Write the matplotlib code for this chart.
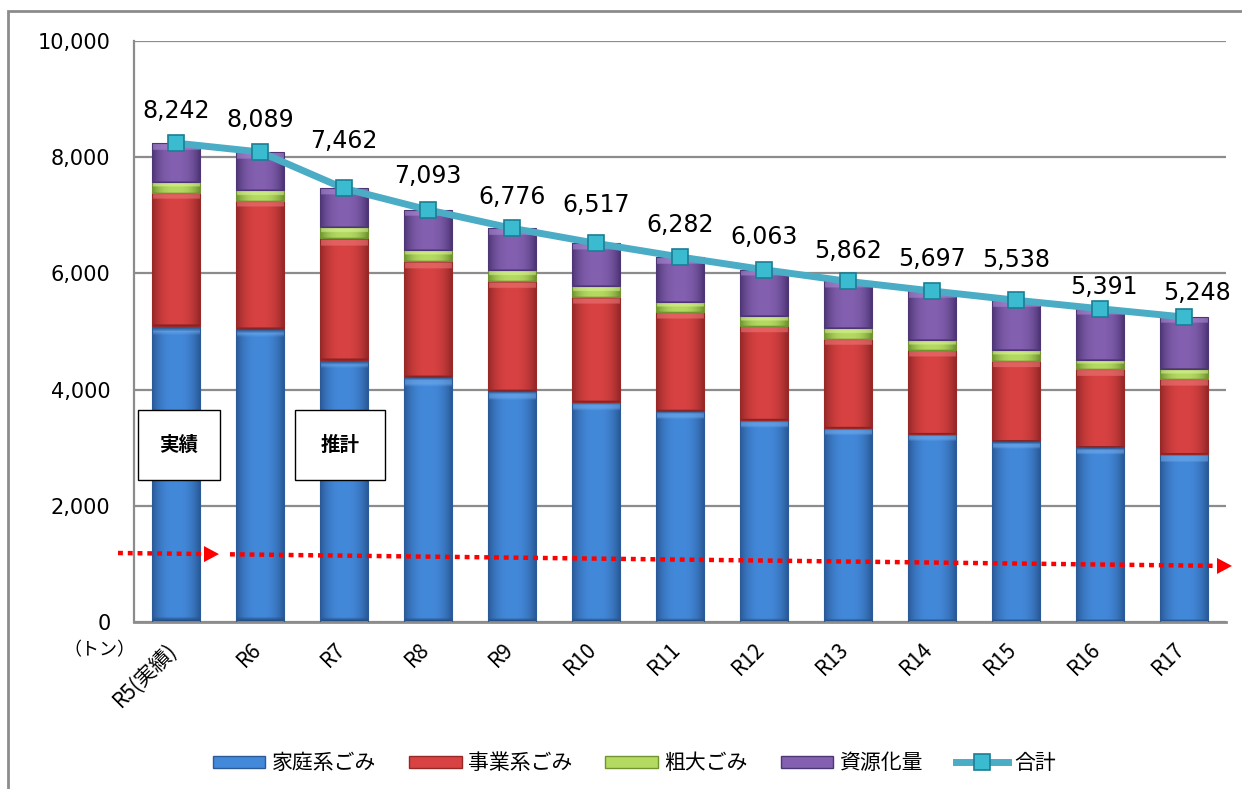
import numpy as np
import matplotlib
matplotlib.use("Agg")
import matplotlib.pyplot as plt
from matplotlib.patches import Patch, Rectangle, Polygon
from matplotlib.lines import Line2D
from matplotlib.colors import to_rgb
from matplotlib.transforms import ScaledTranslation

plt.rcParams['font.family'] = ['Noto Sans CJK JP', 'DejaVu Sans']

# データ（トン）
years = ['R5(実績)', 'R6', 'R7', 'R8', 'R9', 'R10', 'R11',
         'R12', 'R13', 'R14', 'R15', 'R16', 'R17']
katei = [5093, 5043, 4509, 4222, 3976, 3787, 3632, 3477, 3339, 3236, 3115, 3007, 2892]
jigyo = [2296, 2209, 2095, 1991, 1893, 1807, 1704, 1618, 1532, 1446, 1377, 1342, 1290]
sodai = [190, 183, 189, 190, 189, 189, 172, 172, 189, 172, 190, 160, 167]
goukei = [8242, 8089, 7462, 7093, 6776, 6517, 6282, 6063, 5862, 5697, 5538, 5391, 5248]
shigen = [t - a - b - c for t, a, b, c in zip(goukei, katei, jigyo, sodai)]

series_names = ['家庭系ごみ', '事業系ごみ', '粗大ごみ', '資源化量']
# (端の色, 中央の色, 上面ハイライト)
series_colors = [('#2A5A98', '#4389DA', '#74AEEE'),
                 ('#962828', '#D84242', '#EE7A7A'),
                 ('#6F9430', '#B5DA62', '#DDF59A'),
                 ('#4E3676', '#8460B0', '#B08ED8')]
line_color = '#4BACC6'

# ラベル位置の微調整（ピクセル）
label_dy = [32, 32, 47, 34, 31, 38, 32, 33, 30, 32, 40, 22, 24]
label_dx = [0, 0, 0, 0, 0, 0, 0, 0, 0, 0, 0, 4, 13]

fig = plt.figure(figsize=(12.42, 7.89), dpi=100)
ax = fig.add_axes([0.1079, 0.2117, 0.8792, 0.7364])

x = np.arange(len(years))
width = 0.57
bottom = np.zeros(len(years))


def shade(ax, bars, c_edge, c_mid, c_top):
    # 縦棒に立体風のグラデーションをかける
    e, m, t = np.array(to_rgb(c_edge)), np.array(to_rgb(c_mid)), np.array(to_rgb(c_top))
    nx, ny = 60, 80
    u = np.linspace(0, 1, nx)
    prof = np.clip(1 - np.abs(2 * u - 1) ** 2.5, 0, 1)
    row = e[None, :] * (1 - prof[:, None]) + m[None, :] * prof[:, None]
    for p in bars:
        x0, y0 = p.get_x(), p.get_y()
        w, h = p.get_width(), p.get_height()
        img = np.repeat(row[None, :, :], ny, axis=0)
        frac = min(110.0 / h, 0.45)
        vv = np.linspace(0, 1, ny)
        top = vv > 1 - frac
        img[top] = img[top] * 0.45 + t * 0.55
        img[-1] = e
        img[0] = e * 0.9
        im = ax.imshow(img, extent=(x0, x0 + w, y0, y0 + h), origin='lower',
                       aspect='auto', interpolation='bilinear', zorder=2.5)
        im.set_clip_path(p)
        p.set_facecolor('none')
        p.set_zorder(3)


for vals, (ce, cm, ct) in zip([katei, jigyo, sodai, shigen], series_colors):
    bars = ax.bar(x, vals, width, bottom=bottom, color=cm, edgecolor=ce,
                  linewidth=0.8, zorder=2)
    shade(ax, bars, ce, cm, ct)
    bottom += np.array(vals)

ax.plot(x, goukei, color=line_color, lw=5, marker='s', ms=11,
        mfc='#3ABBD0', mec='#1D7D93', mew=1.2, zorder=6,
        solid_joinstyle='round')

for i, v in enumerate(goukei):
    ax.annotate(f'{v:,}', (x[i], v), xytext=(label_dx[i] * 0.72, label_dy[i] * 0.72),
                textcoords='offset points', ha='center', va='center',
                fontsize=17, family='DejaVu Sans', zorder=7)

ax.set_xlim(-0.5, len(years) - 0.5)
ax.set_ylim(0, 10000)
ax.set_yticks(range(0, 10001, 2000))
ax.set_yticklabels([f'{t:,}' for t in range(0, 10001, 2000)],
                   fontsize=15, family='DejaVu Sans')
ax.yaxis.grid(True, color='#8C8C8C', lw=1.6, zorder=0)
ax.set_axisbelow(True)
ax.tick_params(axis='both', length=0)
ax.tick_params(axis='y', pad=17)
ax.set_xticks(x)
ax.set_xticklabels(years, rotation=45, ha='right', va='top',
                   rotation_mode='anchor', fontsize=15)
ax.tick_params(axis='x', pad=12)
shift = ScaledTranslation(-10 / 100, 0, fig.dpi_scale_trans)
for lab in ax.get_xticklabels():
    lab.set_transform(lab.get_transform() + shift)
for s in ['top', 'right']:
    ax.spines[s].set_visible(False)
ax.spines['left'].set_color('#8C8C8C')
ax.spines['left'].set_linewidth(1.6)
ax.spines['bottom'].set_color('#8C8C8C')
ax.spines['bottom'].set_linewidth(2)

# 単位
fig.text(99 / 1242, 1 - 650 / 789, '（トン）', ha='center', va='center', fontsize=13)

# 実績・推計の枠
W, H = 1242.0, 789.0
for (x0, x1, txt) in [(138, 220, '実績'), (295, 385, '推計')]:
    fig.patches.append(Rectangle((x0 / W, 1 - 480 / H), (x1 - x0) / W, 70 / H,
                                 transform=fig.transFigure, facecolor='white',
                                 edgecolor='black', lw=1, zorder=8))
    fig.text((x0 + x1) / 2 / W, 1 - 445 / H, txt, ha='center', va='center',
             fontsize=14, fontweight='bold', zorder=9)

# 赤い点線の矢印
def yline(px):
    return 553 + (px - 118) * 13 / 1110.0

for (p0, p1) in [(118, 205), (230, 1214)]:
    fig.add_artist(Line2D([p0 / W, p1 / W], [1 - yline(p0) / H, 1 - yline(p1) / H],
                          transform=fig.transFigure, color='#FF0000', lw=3.2,
                          linestyle=(0, (1.1, 1.1)), solid_capstyle='butt',
                          dash_capstyle='butt', zorder=8))
for tip in [219, 1232]:
    yc = yline(tip - 8)
    fig.patches.append(Polygon([((tip - 15) / W, 1 - (yc - 8) / H),
                                (tip / W, 1 - yc / H),
                                ((tip - 15) / W, 1 - (yc + 8) / H)],
                               closed=True, transform=fig.transFigure,
                               facecolor='#FF0000', edgecolor='none', zorder=8))

# 外枠
fig.patches.append(Rectangle((8 / W, -0.05), 1.1, 1 - 11 / H + 0.05,
                             transform=fig.transFigure, fill=False,
                             edgecolor='#8C8C8C', lw=2))

# 凡例
handles = [Patch(facecolor=cm, edgecolor=ce) for ce, cm, ct in series_colors]
handles.append(Line2D([], [], color=line_color, lw=5, marker='s', ms=11,
                      mfc='#3ABBD0', mec='#1D7D93', mew=1.2))
fig.legend(handles, series_names + ['合計'], loc='center', ncol=5,
           bbox_to_anchor=(0.511, 0.033), frameon=False, fontsize=15,
           handlelength=2.5, handleheight=0.5, handletextpad=0.3,
           columnspacing=1.6)

fig.savefig('out.png', dpi=100)
